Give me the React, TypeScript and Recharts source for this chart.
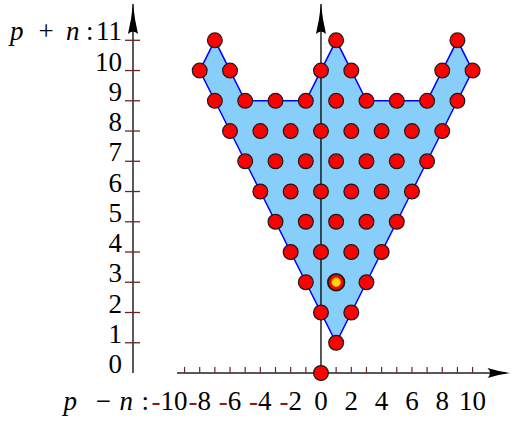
import { ComposedChart, Area, Scatter, XAxis, YAxis, ReferenceLine, ReferenceDot } from "recharts"

// weight diagram points: x = p - n, y = p + n
const pMinusN = [0, 1, 0, 2, -1, 3, -2, 0, 2, 4, -3, -1, 1, 3, 5, -4, -2, 0, 2, 4, 6, -5, -3, -1, 1, 3, 5, 7, -6, -4, -2, 0, 2, 4, 6, 8, -7, -5, -3, -1, 1, 3, 5, 7, 9, -8, -6, 0, 2, 8, 10, -7, 1, 9]
const pPlusN = [0, 1, 2, 2, 3, 3, 4, 4, 4, 4, 5, 5, 5, 5, 5, 6, 6, 6, 6, 6, 6, 7, 7, 7, 7, 7, 7, 7, 8, 8, 8, 8, 8, 8, 8, 8, 9, 9, 9, 9, 9, 9, 9, 9, 9, 10, 10, 10, 10, 10, 10, 11, 11, 11]

const highlightX = [1]
const highlightY = [3]

// outline of the shaded region
const hullX = [-8, -7, -5, -1, 1, 3, 7, 9, 10]
const hullLow = [10, 9, 7, 3, 1, 3, 7, 9, 10]
const hullHigh = [10, 11, 9, 9, 11, 9, 9, 11, 10]

const yTicks = [0, 1, 2, 3, 4, 5, 6, 7, 8, 9, 10, 11]
const xTickLabels = [-10, -8, -6, -4, -2, 0, 2, 4, 6, 8, 10]
const xMinorTicks = [-9, -8, -7, -6, -5, -4, -3, -2, -1, 0, 1, 2, 3, 4, 5, 6, 7, 8, 9, 10]

const points = pMinusN.map((x, i) => ({ x, y: pPlusN[i] }))
const highlight = highlightX.map((x, i) => ({ x, y: highlightY[i] }))
const hull = hullX.map((x, i) => ({ x, range: [hullLow[i], hullHigh[i]] }))

const txt = { fontFamily: "Liberation Serif", fontSize: 27 }
const ital = { fontFamily: "Liberation Serif", fontSize: 27, fontStyle: "italic" }
const TICK = "#6b2323"

const YTick = (props: any) => {
    const { x, y, payload } = props
    const axisX = x + 11
    return (
        <g>
            {payload.value !== 0 && (
                <line x1={axisX - 8} x2={axisX + 7} y1={y} y2={y} stroke={TICK} strokeWidth={1.3} />
            )}
            <text x={x} y={y} textAnchor="end" fill="#000" style={txt}>{payload.value}</text>
            {payload.value === 11 && (
                <g fill="#000">
                    <text x={x - 112} y={y} style={ital}>p</text>
                    <text x={x - 76} y={y} textAnchor="middle" style={txt}>+</text>
                    <text x={x - 56} y={y} style={ital}>n</text>
                    <text x={x - 36} y={y} style={txt}>:</text>
                </g>
            )}
        </g>
    )
}

const XTick = (props: any) => {
    const { x, y, payload } = props
    const v = payload.value
    const base = y + 27
    return (
        <g>
            <text x={x} y={base} textAnchor="middle" fill="#000" style={txt}>
                {v < 0 && <tspan fill="#8b1a1a">-</tspan>}
                <tspan>{Math.abs(v)}</tspan>
            </text>
            {v === -10 && (
                <g fill="#000">
                    <text x={x - 106} y={base} style={ital}>p</text>
                    <text x={x - 66} y={base} textAnchor="middle" style={txt}>−</text>
                    <text x={x - 50} y={base} style={ital}>n</text>
                    <text x={x - 28} y={base} style={txt}>:</text>
                </g>
            )}
        </g>
    )
}

const upArrow = (p: any) => (
    <path
        d={`M ${p.cx} ${p.cy} Q ${p.cx + 1.5} ${p.cy + 15} ${p.cx + 5} ${p.cy + 30} Q ${p.cx} ${p.cy + 25} ${p.cx - 5} ${p.cy + 30} Q ${p.cx - 1.5} ${p.cy + 15} ${p.cx} ${p.cy} Z`}
        fill="#000"
    />
)

const rightArrow = (p: any) => (
    <path
        d={`M ${p.cx} ${p.cy} Q ${p.cx - 12} ${p.cy - 1.5} ${p.cx - 23} ${p.cy - 5} Q ${p.cx - 18} ${p.cy} ${p.cx - 23} ${p.cy + 5} Q ${p.cx - 12} ${p.cy + 1.5} ${p.cx} ${p.cy} Z`}
        fill="#000"
    />
)

const dot = (p: any) => (
    <circle cx={p.cx} cy={p.cy} r={7.4} fill="#ff0000" stroke="#1a1a1a" strokeWidth={1.2} />
)

const highlightDot = (p: any) => (
    <g>
        <circle cx={p.cx} cy={p.cy} r={8.3} fill="#ff0000" stroke="#1a1a1a" strokeWidth={1.8} />
        <circle cx={p.cx} cy={p.cy} r={4.4} fill="#ffd700" stroke="#e89a00" strokeWidth={0.8} />
    </g>
)

const App = () => {
    return (
        <div style={{ position: "absolute", left: 0, top: 0 }}>
            <ComposedChart width={512} height={422} margin={{ top: 4, right: 0, bottom: 0, left: 0 }}>
                <XAxis
                    dataKey="x"
                    type="number"
                    domain={[-12.4, 12.6]}
                    ticks={xTickLabels}
                    interval={0}
                    height={49}
                    axisLine={false}
                    tickLine={false}
                    tickSize={8}
                    tickMargin={2}
                    tick={XTick}
                />
                <YAxis
                    dataKey="y"
                    type="number"
                    domain={[0, 12.2]}
                    ticks={yTicks}
                    interval={0}
                    width={133}
                    axisLine={{ stroke: "#000", strokeWidth: 1.3 }}
                    tickLine={false}
                    tickSize={8}
                    tickMargin={3}
                    tick={YTick}
                />
                <Area
                    data={hull}
                    dataKey="range"
                    type="linear"
                    fill="#87cefa"
                    fillOpacity={1}
                    stroke="#0000ff"
                    strokeWidth={1.5}
                    dot={false}
                    activeDot={false}
                    isAnimationActive={false}
                />
                <ReferenceLine
                    segment={[{ x: -9.5, y: 0 }, { x: 12.2, y: 0 }]}
                    stroke="#222"
                    strokeWidth={1.3}
                    ifOverflow="visible"
                />
                {xMinorTicks.map((t) => (
                    <ReferenceLine
                        key={t}
                        segment={[{ x: t, y: 0 }, { x: t, y: 0.2 }]}
                        stroke={TICK}
                        strokeWidth={1.2}
                        ifOverflow="visible"
                    />
                ))}
                <ReferenceDot x={12.5} y={0} r={0} ifOverflow="visible" shape={rightArrow} />
                <ReferenceDot x={-12.4} y={12.2} r={0} ifOverflow="visible" shape={upArrow} />
                <Scatter data={points} shape={dot} isAnimationActive={false} />
                <Scatter data={highlight} shape={highlightDot} isAnimationActive={false} />
                <ReferenceLine x={0} stroke="#000" strokeWidth={1.3} />
                <ReferenceDot x={0} y={12.2} r={0} ifOverflow="visible" shape={upArrow} />
            </ComposedChart>
        </div>
    )
}

export default App
